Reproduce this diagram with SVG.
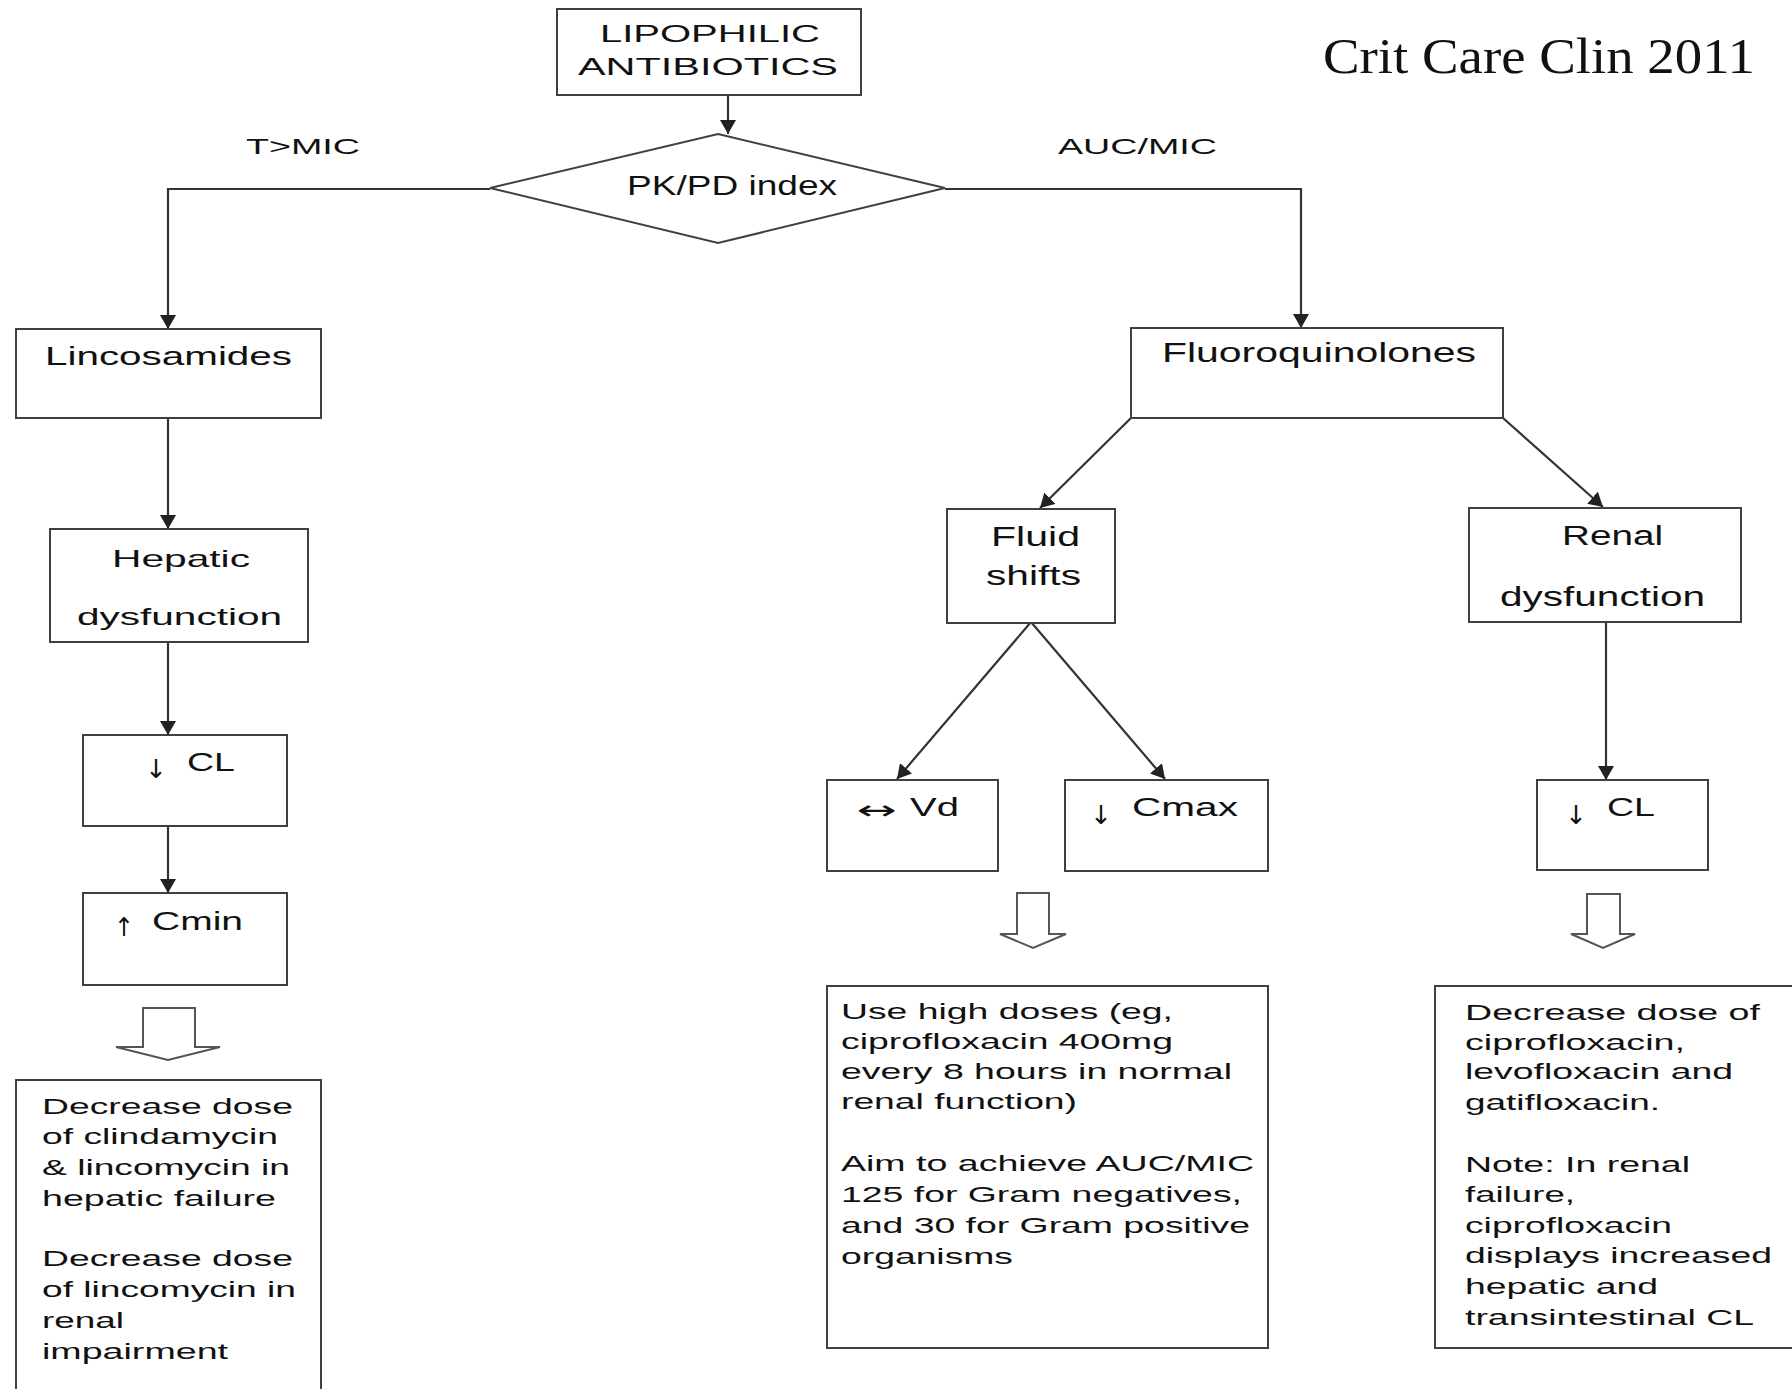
<svg xmlns="http://www.w3.org/2000/svg" width="1792" height="1389" viewBox="0 0 1792 1389">
  <style>
    .box { fill: #ffffff; stroke: #404040; stroke-width: 2; }
    .t { font-family: "Liberation Sans", Arial, sans-serif; fill: #111111; }
    .lbl { font-size: 22px; }
    .body { font-size: 22px; }
    .sym { font-family: "DejaVu Sans", sans-serif; font-size: 26px; fill: #111111; }
    .edge { fill: none; stroke: #333333; stroke-width: 2.2; }
    .hollow { fill: #ffffff; stroke: #555555; stroke-width: 2; }
    .title { font-family: "Liberation Serif", "Times New Roman", serif; font-size: 50px; fill: #111111; }
  </style>
  <defs>
    <marker id="head" markerUnits="userSpaceOnUse" markerWidth="16" markerHeight="16" refX="14" refY="8" orient="auto">
      <path d="M0,0 L14,8 L0,16 Z" fill="#222222"/>
    </marker>
  </defs>
  <rect width="1792" height="1389" fill="#ffffff"/>

  <text class="title" x="1323" y="73" textLength="432" lengthAdjust="spacingAndGlyphs">Crit Care Clin 2011</text>

  <g id="connectors">
    <line class="edge" x1="728" y1="95" x2="728" y2="134" marker-end="url(#head)"/>
    <polyline class="edge" points="490,189 168,189 168,329" marker-end="url(#head)"/>
    <polyline class="edge" points="945,189 1301,189 1301,328" marker-end="url(#head)"/>
    <line class="edge" x1="168" y1="418" x2="168" y2="529" marker-end="url(#head)"/>
    <line class="edge" x1="168" y1="642" x2="168" y2="735" marker-end="url(#head)"/>
    <line class="edge" x1="168" y1="826" x2="168" y2="893" marker-end="url(#head)"/>
    <line class="edge" x1="1131" y1="418" x2="1040" y2="508" marker-end="url(#head)"/>
    <line class="edge" x1="1503" y1="418" x2="1603" y2="507" marker-end="url(#head)"/>
    <line class="edge" x1="1031" y1="622" x2="897" y2="779" marker-end="url(#head)"/>
    <line class="edge" x1="1031" y1="622" x2="1165" y2="779" marker-end="url(#head)"/>
    <line class="edge" x1="1606" y1="622" x2="1606" y2="780" marker-end="url(#head)"/>
    <!-- block arrows leading to the recommendation boxes -->
    <polygon class="hollow" points="143,1008 195,1008 195,1047 220,1047 168,1060 116,1047 143,1047"/>
    <polygon class="hollow" points="1017,893 1049,893 1049,934 1066,934 1033,948 1000,934 1017,934"/>
    <polygon class="hollow" points="1587,894 1620,894 1620,934 1635,934 1603,948 1571,934 1587,934"/>
    <text class="t lbl" x="246" y="154" textLength="114" lengthAdjust="spacingAndGlyphs">T&gt;MIC</text>
    <text class="t lbl" x="1058" y="154" textLength="159" lengthAdjust="spacingAndGlyphs">AUC/MIC</text>
  </g>

  <g id="lipophilic">
    <rect class="box" x="557" y="9" width="304" height="86"/>
    <text class="t" font-size="24" x="600" y="42" textLength="220" lengthAdjust="spacingAndGlyphs">LIPOPHILIC</text>
    <text class="t" font-size="24" x="578" y="75" textLength="260" lengthAdjust="spacingAndGlyphs">ANTIBIOTICS</text>
  </g>

  <g id="pkpd">
    <polygon class="box" points="718,134 945,188 718,243 490,188"/>
    <text class="t" font-size="27" x="627" y="195" textLength="210" lengthAdjust="spacingAndGlyphs">PK/PD index</text>
  </g>

  <g id="lincosamides">
    <rect class="box" x="16" y="329" width="305" height="89"/>
    <text class="t" font-size="25" x="45" y="365" textLength="247" lengthAdjust="spacingAndGlyphs">Lincosamides</text>
  </g>

  <g id="hepatic">
    <rect class="box" x="50" y="529" width="258" height="113"/>
    <text class="t" font-size="24" x="112" y="567" textLength="138" lengthAdjust="spacingAndGlyphs">Hepatic</text>
    <text class="t" font-size="24" x="77" y="625" textLength="205" lengthAdjust="spacingAndGlyphs">dysfunction</text>
  </g>

  <g id="cl-left">
    <rect class="box" x="83" y="735" width="204" height="91"/>
    <text class="sym" x="145" y="778" textLength="22" lengthAdjust="spacingAndGlyphs">↓</text>
    <text class="t" font-size="26" x="187" y="771" textLength="48" lengthAdjust="spacingAndGlyphs">CL</text>
  </g>

  <g id="cmin">
    <rect class="box" x="83" y="893" width="204" height="92"/>
    <text class="sym" x="114" y="936" textLength="20" lengthAdjust="spacingAndGlyphs">↑</text>
    <text class="t" font-size="25" x="152" y="930" textLength="91" lengthAdjust="spacingAndGlyphs">Cmin</text>
  </g>

  <g id="advice-lincosamides">
    <rect class="box" x="16" y="1080" width="305" height="340"/>
    <text class="t body" x="42" y="1114" textLength="251" lengthAdjust="spacingAndGlyphs">Decrease dose</text>
    <text class="t body" x="42" y="1144" textLength="236" lengthAdjust="spacingAndGlyphs">of clindamycin</text>
    <text class="t body" x="42" y="1175" textLength="248" lengthAdjust="spacingAndGlyphs">&amp; lincomycin in</text>
    <text class="t body" x="42" y="1206" textLength="234" lengthAdjust="spacingAndGlyphs">hepatic failure</text>
    <text class="t body" x="42" y="1266" textLength="251" lengthAdjust="spacingAndGlyphs">Decrease dose</text>
    <text class="t body" x="42" y="1297" textLength="254" lengthAdjust="spacingAndGlyphs">of lincomycin in</text>
    <text class="t body" x="42" y="1328" textLength="82" lengthAdjust="spacingAndGlyphs">renal</text>
    <text class="t body" x="42" y="1359" textLength="186" lengthAdjust="spacingAndGlyphs">impairment</text>
  </g>

  <g id="fluoroquinolones">
    <rect class="box" x="1131" y="328" width="372" height="90"/>
    <text class="t" font-size="27" x="1162" y="362" textLength="314" lengthAdjust="spacingAndGlyphs">Fluoroquinolones</text>
  </g>

  <g id="fluid-shifts">
    <rect class="box" x="947" y="509" width="168" height="114"/>
    <text class="t" font-size="27" x="991" y="546" textLength="89" lengthAdjust="spacingAndGlyphs">Fluid</text>
    <text class="t" font-size="27" x="986" y="585" textLength="95" lengthAdjust="spacingAndGlyphs">shifts</text>
  </g>

  <g id="renal">
    <rect class="box" x="1469" y="508" width="272" height="114"/>
    <text class="t" font-size="27" x="1562" y="545" textLength="101" lengthAdjust="spacingAndGlyphs">Renal</text>
    <text class="t" font-size="27" x="1500" y="606" textLength="205" lengthAdjust="spacingAndGlyphs">dysfunction</text>
  </g>

  <g id="vd">
    <rect class="box" x="827" y="780" width="171" height="91"/>
    <text class="sym" x="857" y="819" textLength="40" lengthAdjust="spacingAndGlyphs">↔</text>
    <text class="t" font-size="26" x="910" y="816" textLength="49" lengthAdjust="spacingAndGlyphs">Vd</text>
  </g>

  <g id="cmax">
    <rect class="box" x="1065" y="780" width="203" height="91"/>
    <text class="sym" x="1090" y="824" textLength="22" lengthAdjust="spacingAndGlyphs">↓</text>
    <text class="t" font-size="26" x="1132" y="816" textLength="106" lengthAdjust="spacingAndGlyphs">Cmax</text>
  </g>

  <g id="cl-right">
    <rect class="box" x="1537" y="780" width="171" height="90"/>
    <text class="sym" x="1565" y="824" textLength="22" lengthAdjust="spacingAndGlyphs">↓</text>
    <text class="t" font-size="26" x="1607" y="816" textLength="48" lengthAdjust="spacingAndGlyphs">CL</text>
  </g>

  <g id="advice-fluid">
    <rect class="box" x="827" y="986" width="441" height="362"/>
    <text class="t body" x="841" y="1019" textLength="332" lengthAdjust="spacingAndGlyphs">Use high doses (eg,</text>
    <text class="t body" x="841" y="1049" textLength="332" lengthAdjust="spacingAndGlyphs">ciprofloxacin 400mg</text>
    <text class="t body" x="841" y="1079" textLength="391" lengthAdjust="spacingAndGlyphs">every 8 hours in normal</text>
    <text class="t body" x="841" y="1109" textLength="236" lengthAdjust="spacingAndGlyphs">renal function)</text>
    <text class="t body" x="841" y="1171" textLength="413" lengthAdjust="spacingAndGlyphs">Aim to achieve AUC/MIC</text>
    <text class="t body" x="841" y="1202" textLength="401" lengthAdjust="spacingAndGlyphs">125 for Gram negatives,</text>
    <text class="t body" x="841" y="1233" textLength="409" lengthAdjust="spacingAndGlyphs">and 30 for Gram positive</text>
    <text class="t body" x="841" y="1264" textLength="172" lengthAdjust="spacingAndGlyphs">organisms</text>
  </g>

  <g id="advice-renal">
    <rect class="box" x="1435" y="986" width="400" height="362"/>
    <text class="t body" x="1465" y="1020" textLength="295" lengthAdjust="spacingAndGlyphs">Decrease dose of</text>
    <text class="t body" x="1465" y="1050" textLength="220" lengthAdjust="spacingAndGlyphs">ciprofloxacin,</text>
    <text class="t body" x="1465" y="1079" textLength="268" lengthAdjust="spacingAndGlyphs">levofloxacin and</text>
    <text class="t body" x="1465" y="1110" textLength="195" lengthAdjust="spacingAndGlyphs">gatifloxacin.</text>
    <text class="t body" x="1465" y="1172" textLength="225" lengthAdjust="spacingAndGlyphs">Note: In renal</text>
    <text class="t body" x="1465" y="1202" textLength="110" lengthAdjust="spacingAndGlyphs">failure,</text>
    <text class="t body" x="1465" y="1233" textLength="207" lengthAdjust="spacingAndGlyphs">ciprofloxacin</text>
    <text class="t body" x="1465" y="1263" textLength="307" lengthAdjust="spacingAndGlyphs">displays increased</text>
    <text class="t body" x="1465" y="1294" textLength="193" lengthAdjust="spacingAndGlyphs">hepatic and</text>
    <text class="t body" x="1465" y="1325" textLength="289" lengthAdjust="spacingAndGlyphs">transintestinal CL</text>
  </g>
</svg>
